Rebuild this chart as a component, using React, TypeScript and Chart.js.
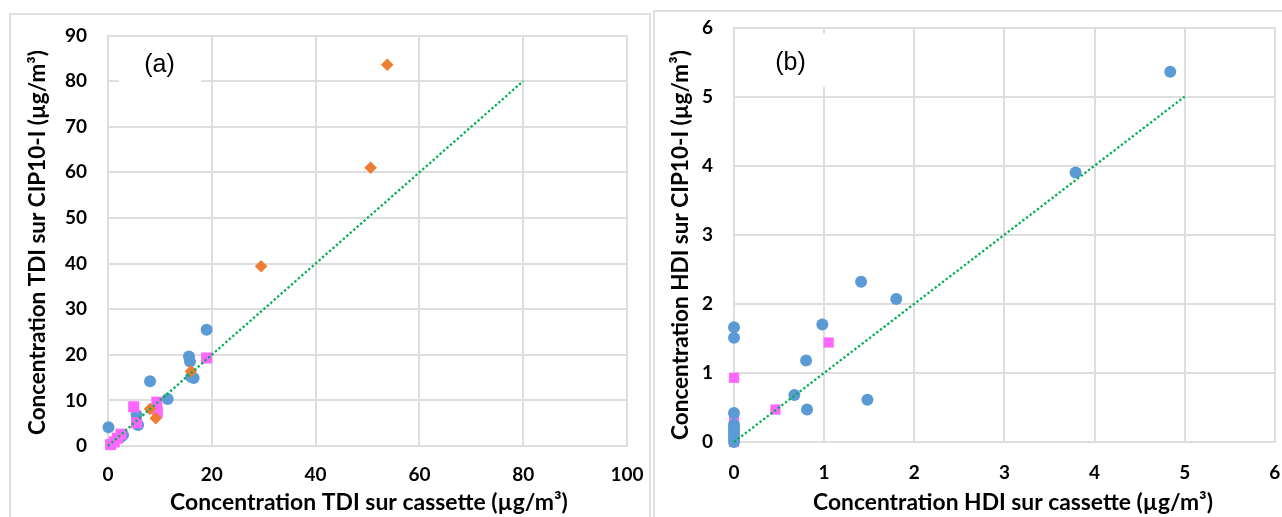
import React, { useEffect, useRef } from "react";
import { Chart, registerables } from "chart.js";

Chart.register(...registerables);

// ---------- Panel (a) : TDI ----------
const tdiXTicks = [0, 20, 40, 60, 80, 100];
const tdiYTicks = [0, 10, 20, 30, 40, 50, 60, 70, 80, 90];

const tdiBlueX = [0.1, 8.1, 19.0, 15.6, 15.8, 16.0, 16.5, 11.5, 5.5, 5.8, 2.9, 2.4];
const tdiBlueY = [4.1, 14.2, 25.5, 19.6, 18.5, 15.2, 14.9, 10.3, 6.8, 4.6, 2.4, 1.9];

const tdiOrangeX = [16.0, 8.1, 9.2, 29.5, 50.6, 53.8];
const tdiOrangeY = [16.4, 8.1, 6.1, 39.4, 61.0, 83.6];

const tdiPinkX = [19.0, 4.95, 9.4, 9.5, 5.5, 0.5, 1.2, 1.8, 2.5];
const tdiPinkY = [19.3, 8.6, 9.6, 7.4, 5.1, 0.3, 0.9, 1.7, 2.6];

const tdiLineX = [0, 80];
const tdiLineY = [0, 80];

// ---------- Panel (b) : HDI ----------
const hdiXTicks = [0, 1, 2, 3, 4, 5, 6];
const hdiYTicks = [0, 1, 2, 3, 4, 5, 6];

const hdiBlueX = [0, 0, 0, 0, 0, 0, 0, 0, 0, 0.98, 0.8, 0.67, 0.81, 1.48, 1.41, 1.8, 3.79, 4.84];
const hdiBlueY = [1.66, 1.51, 0.42, 0.25, 0.2, 0.15, 0.1, 0.05, 0.0, 1.7, 1.18, 0.68, 0.47, 0.61, 2.32, 2.07, 3.9, 5.36];

const hdiPinkX = [0, 0.46, 1.05, 0, 0];
const hdiPinkY = [0.93, 0.47, 1.44, 0.33, 0.0];

const hdiLineX = [0, 5];
const hdiLineY = [0, 5];

const BLUE = "#5B9BD5";
const ORANGE = "#ED7D31";
const PINK = "#FF66FF";
const GREEN = "#00B050";
const GRID = "#dedede";
const FONT = "Lato";

const pts = (xs: number[], ys: number[]) => xs.map((x, i) => ({ x, y: ys[i] }));

type PanelCfg = {
  width: number;
  height: number;
  yAxisWidth: number;
  xAxisHeight: number;
  padTop: number;
  padRight: number;
  xTicks: number[];
  yTicks: number[];
  xPad: number;
  datasets: any[];
  label: string;
  labelX: number;
  labelY: number;
  box: [number, number, number, number];
  xTitle: string;
  yTitle: string;
  xTitlePos: [number, number];
  yTitlePos: [number, number];
  xTitleLen: number;
  yTitleLen: number;
};

const zeroPadding = (s: any) => {
  s.paddingTop = 0;
  s.paddingBottom = 0;
  s.paddingLeft = 0;
  s.paddingRight = 0;
};

function makeOptions(c: PanelCfg): any {
  const tickFont = { family: FONT, weight: "bold", size: 19 };
  return {
    responsive: false,
    animation: false,
    layout: { padding: { top: c.padTop, right: c.padRight, left: 0, bottom: 0 } },
    plugins: { legend: { display: false }, tooltip: { enabled: false } },
    scales: {
      x: {
        type: "linear",
        min: c.xTicks[0],
        max: c.xTicks[c.xTicks.length - 1],
        afterBuildTicks: (s: any) => {
          s.ticks = c.xTicks.map((v) => ({ value: v }));
        },
        afterFit: (s: any) => {
          s.height = c.xAxisHeight;
          zeroPadding(s);
        },
        grid: { color: GRID, lineWidth: 2, drawTicks: false },
        border: { color: GRID, width: 2 },
        ticks: { font: tickFont, color: "#000", padding: c.xPad, maxRotation: 0 },
      },
      y: {
        type: "linear",
        min: c.yTicks[0],
        max: c.yTicks[c.yTicks.length - 1],
        afterBuildTicks: (s: any) => {
          s.ticks = c.yTicks.map((v) => ({ value: v }));
        },
        afterFit: (s: any) => {
          s.width = c.yAxisWidth;
          zeroPadding(s);
        },
        grid: { color: GRID, lineWidth: 2, drawTicks: false },
        border: { color: GRID, width: 2 },
        ticks: { font: tickFont, color: "#000", padding: 21 },
      },
    },
  };
}

function fittedFont(ctx: CanvasRenderingContext2D, text: string, len: number) {
  ctx.font = `bold 22px ${FONT}`;
  const w = ctx.measureText(text).width || len;
  const size = Math.min(26, Math.max(18, (22 * len) / w));
  return `bold ${size.toFixed(2)}px ${FONT}`;
}

function makePlugins(c: PanelCfg): any[] {
  return [
    {
      id: "panelLabel",
      beforeDatasetsDraw(chart: any) {
        const ctx = chart.ctx;
        ctx.save();
        ctx.fillStyle = "#ffffff";
        const [x1, y1, x2, y2] = c.box;
        ctx.fillRect(x1, y1, x2 - x1, y2 - y1);
        ctx.fillStyle = "#000";
        ctx.font = "25px 'Liberation Sans', Arial, sans-serif";
        ctx.textAlign = "center";
        ctx.textBaseline = "middle";
        ctx.fillText(c.label, c.labelX, c.labelY);
        ctx.restore();
      },
    },
    {
      id: "axisTitles",
      afterDraw(chart: any) {
        const ctx = chart.ctx;
        ctx.save();
        ctx.fillStyle = "#000";
        ctx.textAlign = "center";
        ctx.textBaseline = "middle";
        ctx.font = fittedFont(ctx, c.xTitle, c.xTitleLen);
        ctx.fillText(c.xTitle, c.xTitlePos[0], c.xTitlePos[1]);
        ctx.font = fittedFont(ctx, c.yTitle, c.yTitleLen);
        ctx.translate(c.yTitlePos[0], c.yTitlePos[1]);
        ctx.rotate(-Math.PI / 2);
        ctx.fillText(c.yTitle, 0, 0);
        ctx.restore();
      },
    },
  ];
}

const lineDs = (xs: number[], ys: number[]) => ({
  type: "line",
  data: pts(xs, ys),
  borderColor: GREEN,
  borderWidth: 2.3,
  borderDash: [2.3, 2.3],
  pointRadius: 0,
  fill: false,
  clip: false,
  order: 0,
});

const panelA: PanelCfg = {
  width: 642,
  height: 503,
  yAxisWidth: 98,
  xAxisHeight: 71,
  padTop: 21.5,
  padRight: 25,
  xTicks: tdiXTicks,
  yTicks: tdiYTicks,
  xPad: 17,
  datasets: [
    lineDs(tdiLineX, tdiLineY),
    {
      type: "scatter",
      data: pts(tdiOrangeX, tdiOrangeY),
      pointStyle: "rectRot",
      pointRadius: 6.3,
      backgroundColor: ORANGE,
      borderColor: ORANGE,
      borderWidth: 0,
      clip: false,
      order: 1,
    },
    {
      type: "scatter",
      data: pts(tdiPinkX, tdiPinkY),
      pointStyle: "rect",
      pointRadius: 7.8,
      backgroundColor: PINK,
      borderColor: PINK,
      borderWidth: 0,
      clip: false,
      order: 2,
    },
    {
      type: "scatter",
      data: pts(tdiBlueX, tdiBlueY),
      pointStyle: "circle",
      pointRadius: 6,
      backgroundColor: BLUE,
      borderColor: BLUE,
      borderWidth: 0,
      clip: false,
      order: 3,
    },
  ],
  label: "(a)",
  labelX: 149.5,
  labelY: 51,
  box: [109, 23, 191, 70],
  xTitle: "Concentration TDI sur cassette (µg/m³)",
  yTitle: "Concentration TDI sur CIP10-I (µg/m³)",
  xTitlePos: [359, 489],
  yTitlePos: [28, 228.5],
  xTitleLen: 398,
  yTitleLen: 385,
};

const panelB: PanelCfg = {
  width: 628,
  height: 506,
  yAxisWidth: 80,
  xAxisHeight: 75,
  padTop: 16.5,
  padRight: 6,
  xTicks: hdiXTicks,
  yTicks: hdiYTicks,
  xPad: 19,
  datasets: [
    lineDs(hdiLineX, hdiLineY),
    {
      type: "scatter",
      data: pts(hdiBlueX, hdiBlueY),
      pointStyle: "circle",
      pointRadius: 6,
      backgroundColor: BLUE,
      borderColor: BLUE,
      borderWidth: 0,
      clip: false,
      order: 1,
    },
    {
      type: "scatter",
      data: pts(hdiPinkX, hdiPinkY),
      pointStyle: "rect",
      pointRadius: 7.2,
      backgroundColor: PINK,
      borderColor: PINK,
      borderWidth: 0,
      clip: false,
      order: 2,
    },
  ],
  label: "(b)",
  labelX: 136.5,
  labelY: 52.5,
  box: [95, 23, 178, 76],
  xTitle: "Concentration HDI sur cassette (µg/m³)",
  yTitle: "Concentration HDI sur CIP10-I (µg/m³)",
  xTitlePos: [359, 491.5],
  yTitlePos: [27, 234],
  xTitleLen: 400,
  yTitleLen: 390,
};

function Panel({ cfg, left, top }: { cfg: PanelCfg; left: number; top: number }) {
  const ref = useRef<HTMLCanvasElement | null>(null);
  useEffect(() => {
    if (!ref.current) return;
    const chart = new Chart(ref.current, {
      type: "scatter",
      data: { datasets: cfg.datasets },
      options: makeOptions(cfg),
      plugins: makePlugins(cfg),
    } as any);
    return () => chart.destroy();
  }, [cfg]);
  return (
    <canvas
      ref={ref}
      width={cfg.width}
      height={cfg.height}
      style={{ position: "absolute", left, top, width: cfg.width, height: cfg.height }}
    />
  );
}

export default function App() {
  return (
    <div
      style={{
        position: "fixed",
        left: 0,
        top: 0,
        width: 1282,
        height: 517,
        background: "#fff",
        overflow: "hidden",
      }}
    >
      <div
        style={{
          position: "absolute",
          left: 9,
          top: 13,
          width: 642,
          height: 530,
          border: "2px solid #e0e0e0",
          boxSizing: "border-box",
        }}
      />
      <div
        style={{
          position: "absolute",
          left: 653,
          top: 10,
          width: 660,
          height: 530,
          border: "2px solid #e0e0e0",
          boxSizing: "border-box",
        }}
      />
      <Panel cfg={panelA} left={10} top={14} />
      <Panel cfg={panelB} left={654} top={11} />
    </div>
  );
}
